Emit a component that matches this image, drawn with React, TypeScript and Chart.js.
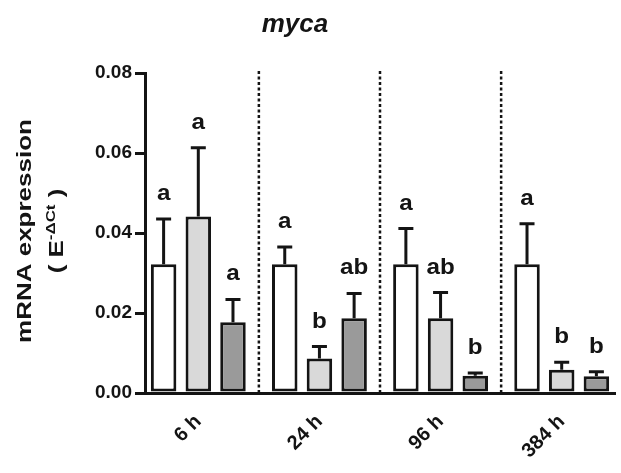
import React, { useEffect, useRef } from 'react';
import { Chart, registerables } from 'chart.js';

Chart.register(...registerables);

const chartTitle = 'myca';
const timePoints = ['6 h', '24 h', '96 h', '384 h'];
const seriesNames = ['Group 1', 'Group 2', 'Group 3'];
const group1Values = [0.0322, 0.0322, 0.0322, 0.0322];
const group1Errors = [0.0113, 0.0043, 0.0089, 0.0101];
const group1Letters = ['a', 'a', 'a', 'a'];
const group2Values = [0.0441, 0.0086, 0.0187, 0.0058];
const group2Errors = [0.0172, 0.003, 0.0064, 0.0019];
const group2Letters = ['a', 'b', 'ab', 'b'];
const group3Values = [0.0177, 0.0187, 0.0043, 0.0042];
const group3Errors = [0.0057, 0.0062, 0.0007, 0.0011];
const group3Letters = ['a', 'ab', 'b', 'b'];
const yMin = 0;
const yMax = 0.08;
const yStep = 0.02;

const FONT = '"Liberation Sans", Arial, Helvetica, sans-serif';
const INK = '#141414';
const fills = ['#ffffff', '#d9d9d9', '#9a9a9a'];

const series = [
  { name: seriesNames[0], values: group1Values, errors: group1Errors, letters: group1Letters },
  { name: seriesNames[1], values: group2Values, errors: group2Errors, letters: group2Letters },
  { name: seriesNames[2], values: group3Values, errors: group3Errors, letters: group3Letters },
];

const decorations = {
  id: 'decorations',
  beforeDatasetsDraw(chart: any) {
    const { ctx, chartArea } = chart;
    const xs = chart.scales.x;
    ctx.save();
    ctx.strokeStyle = INK;
    ctx.lineWidth = 2.5;
    ctx.setLineDash([3, 2.5]);
    for (let i = 0; i < timePoints.length - 1; i++) {
      const x = xs.getPixelForValue(i + 0.5);
      ctx.beginPath();
      ctx.moveTo(x, chartArea.top - 2);
      ctx.lineTo(x, chartArea.bottom);
      ctx.stroke();
    }
    ctx.restore();
  },
  afterDatasetsDraw(chart: any) {
    const { ctx } = chart;
    const ys = chart.scales.y;
    series.forEach((s, di) => {
      const meta = chart.getDatasetMeta(di);
      meta.data.forEach((bar: any, i: number) => {
        const capY = ys.getPixelForValue(s.values[i] + s.errors[i]);
        const x = bar.x;
        ctx.save();
        ctx.strokeStyle = INK;
        ctx.lineWidth = 3;
        ctx.beginPath();
        ctx.moveTo(x, bar.y);
        ctx.lineTo(x, capY);
        ctx.moveTo(x - 7.5, capY);
        ctx.lineTo(x + 7.5, capY);
        ctx.stroke();
        ctx.fillStyle = INK;
        ctx.font = `bold 22px ${FONT}`;
        ctx.textAlign = 'center';
        ctx.textBaseline = 'alphabetic';
        ctx.translate(x, capY - 19);
        ctx.scale(1.1, 1);
        ctx.fillText(s.letters[i], 0, 0);
        ctx.restore();
      });
    });
  },
  afterDraw(chart: any) {
    const { ctx } = chart;
    ctx.save();
    ctx.fillStyle = INK;
    ctx.font = `italic bold 26px ${FONT}`;
    ctx.textAlign = 'center';
    ctx.textBaseline = 'alphabetic';
    ctx.fillText(chartTitle, 295, 32);
    ctx.restore();

    ctx.save();
    ctx.fillStyle = INK;
    ctx.translate(31, 231);
    ctx.rotate(-Math.PI / 2);
    ctx.scale(1.3, 1);
    ctx.font = `bold 20px ${FONT}`;
    ctx.textAlign = 'center';
    ctx.textBaseline = 'alphabetic';
    ctx.fillText('mRNA expression', 0, 0);
    ctx.restore();

    ctx.save();
    ctx.fillStyle = INK;
    ctx.translate(63, 231);
    ctx.rotate(-Math.PI / 2);
    ctx.scale(1.3, 1);
    ctx.textAlign = 'left';
    ctx.textBaseline = 'alphabetic';
    const mainFont = `bold 20px ${FONT}`;
    const supFont = `bold 13px ${FONT}`;
    const parts = [
      { t: '( E', f: mainFont, dy: 0 },
      { t: '-\u0394Ct', f: supFont, dy: -8 },
      { t: ' )', f: mainFont, dy: 0 },
    ];
    let total = 0;
    parts.forEach((p) => {
      ctx.font = p.f;
      total += ctx.measureText(p.t).width;
    });
    let cx = -total / 2;
    parts.forEach((p) => {
      ctx.font = p.f;
      ctx.fillText(p.t, cx, p.dy);
      cx += ctx.measureText(p.t).width;
    });
    ctx.restore();
  },
};

export default function App() {
  const ref = useRef<HTMLCanvasElement>(null);

  useEffect(() => {
    if (!ref.current) return;
    Chart.defaults.font.family = FONT;
    Chart.defaults.color = INK;
    const chart = new Chart(ref.current, {
      type: 'bar',
      data: {
        datasets: series.map((s, di) => ({
          label: s.name,
          data: s.values.map((v, i) => ({ x: i, y: v })),
          backgroundColor: fills[di],
          borderColor: INK,
          borderWidth: 3,
          borderSkipped: false,
          categoryPercentage: 0.859,
          barPercentage: 0.735,
        })),
      },
      options: {
        responsive: false,
        animation: false,
        events: [],
        layout: { padding: { top: 73, right: 6, bottom: 0, left: 0 } },
        plugins: {
          legend: { display: false },
          tooltip: { enabled: false },
          title: { display: false },
        },
        scales: {
          x: {
            type: 'linear',
            offset: false,
            min: -0.44,
            max: timePoints.length - 1 + 0.44,
            afterBuildTicks: (axis: any) => {
              axis.ticks = timePoints.map((_, i) => ({ value: i }));
            },
            afterFit: (axis: any) => {
              axis.height = 80;
            },
            grid: { display: false, drawTicks: false, offset: false },
            border: { display: true, width: 3, color: INK },
            ticks: {
              autoSkip: false,
              minRotation: 45,
              maxRotation: 45,
              padding: 17,
              color: INK,
              font: { size: 20, weight: 'bold', family: FONT },
              callback: (v: any) => timePoints[v] ?? '',
            },
          },
          y: {
            min: yMin,
            max: yMax,
            afterFit: (axis: any) => {
              axis.width = 145;
            },
            grid: {
              drawOnChartArea: false,
              drawTicks: true,
              tickLength: 10,
              lineWidth: 3,
              color: INK,
            },
            border: { display: true, width: 3, color: INK },
            ticks: {
              stepSize: yStep,
              padding: 3,
              color: INK,
              font: { size: 19, weight: 'bold', family: FONT },
              callback: (v: any) => Number(v).toFixed(2),
            },
          },
        },
      },
      plugins: [decorations],
    } as any);
    return () => chart.destroy();
  }, []);

  return (
    <div style={{ position: 'absolute', left: 0, top: 0, width: 621, height: 473, background: '#fff' }}>
      <canvas ref={ref} width={621} height={473} style={{ display: 'block' }} />
    </div>
  );
}
